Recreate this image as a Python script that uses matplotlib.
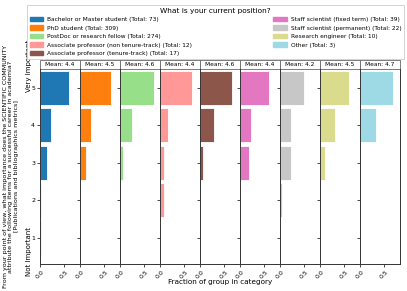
import matplotlib
matplotlib.use("Agg")
import matplotlib.pyplot as plt
import numpy as np
from matplotlib.patches import Rectangle

# answer scale (1 = Not important ... 5 = Very important)
scale = [1, 2, 3, 4, 5]

positions = [
    "Bachelor or Master student",
    "PhD student",
    "PostDoc or research fellow",
    "Associate professor (non tenure-track)",
    "Associate professor (tenure-track)",
    "Staff scientist (fixed term)",
    "Staff scientist (permanent)",
    "Research engineer",
    "Other",
]
totals = [73, 309, 274, 12, 17, 39, 22, 10, 3]

# answer counts per group, for scale 1..5
counts_bachelor = [1, 1, 10, 17, 44]
counts_phd = [0, 3, 40, 71, 195]
counts_postdoc = [0, 2, 17, 66, 189]
counts_assoc_nt = [0, 1, 1, 2, 8]
counts_assoc_tt = [0, 0, 1, 5, 11]
counts_staff_fixed = [0, 0, 7, 9, 23]
counts_staff_perm = [0, 1, 5, 5, 11]
counts_engineer = [0, 0, 1, 3, 6]
counts_other = [0, 0, 0, 1, 2]

all_counts = [counts_bachelor, counts_phd, counts_postdoc, counts_assoc_nt,
              counts_assoc_tt, counts_staff_fixed, counts_staff_perm,
              counts_engineer, counts_other]
means = [4.4, 4.5, 4.6, 4.4, 4.6, 4.4, 4.2, 4.5, 4.7]

tab20 = plt.get_cmap("tab20").colors
colors = [tab20[k] for k in (0, 2, 5, 7, 10, 12, 15, 17, 19)]

fig = plt.figure(figsize=(4.07, 2.91), dpi=100)
fig.subplots_adjust(left=0.098, right=0.983, bottom=0.093, top=0.763, wspace=0)
axes = fig.subplots(1, len(positions), sharey=True)

for i, ax in enumerate(axes):
    c = np.array(all_counts[i], dtype=float)
    frac = c / c.sum()
    ax.barh(scale, frac, height=0.9, color=colors[i], edgecolor="white", linewidth=0.6)
    ax.set_xlim(0, 0.82)
    ax.set_ylim(0.3, 5.5)
    ax.set_xticks([0.0, 0.5])
    ax.set_xticklabels(["0.0", "0.5"], rotation=45, fontsize=4.5)
    ax.tick_params(axis="both", length=2, width=0.5, pad=1.5, labelsize=4.5)
    for s in ax.spines.values():
        s.set_linewidth(0.7)
        s.set_color("#333333")
    ax.spines["top"].set_visible(False)
    if i != len(axes) - 1:
        ax.spines["right"].set_visible(False)
    # header box with the mean
    ax.add_patch(Rectangle((0, 1.0), 1, 0.045, transform=ax.transAxes, clip_on=False,
                           facecolor="white", edgecolor="#666666", linewidth=0.6))
    ax.text(0.5, 1.022, f"Mean: {means[i]}", transform=ax.transAxes,
            ha="center", va="center", fontsize=4.2)

axes[0].set_yticks(scale)
axes[0].set_yticklabels([str(s) for s in scale])
axes[0].set_ylabel("From your point of view, what importance does the SCIENTIFIC COMMUNITY\n"
                   "attribute the following items for a successful career in academia?\n"
                   "[Publications and bibliographics metrics]",
                   fontsize=4.6, labelpad=9, linespacing=1.05)

fig.text(29 / 407, 1 - 66 / 291, "Very Important", rotation=90, ha="center", va="center", fontsize=5)
fig.text(29 / 407, 1 - 251 / 291, "Not Important", rotation=90, ha="center", va="center", fontsize=5)
fig.text((40 + 400) / 2 / 407, 1 - 282 / 291, "Fraction of group in category", ha="center",
         va="center", fontsize=5.2)

handles = [Rectangle((0, 0), 1, 1, color=colors[i]) for i in range(len(positions))]
labels = [f"{p} (Total: {t})" for p, t in zip(positions, totals)]
leg = fig.legend(handles, labels, ncol=2, mode="expand",
                 bbox_to_anchor=(27 / 407, 1 - 57 / 291, 377 / 407, 52 / 291),
                 loc="upper left", title="What is your current position?",
                 fontsize=4.25, title_fontsize=5.3, borderaxespad=0, borderpad=0.45,
                 handlelength=2.3, handleheight=0.75, handletextpad=0.6, labelspacing=0.55,
                 framealpha=1, fancybox=False, edgecolor="#cccccc")
leg.get_frame().set_linewidth(0.6)

fig.savefig("out.png", dpi=100)
